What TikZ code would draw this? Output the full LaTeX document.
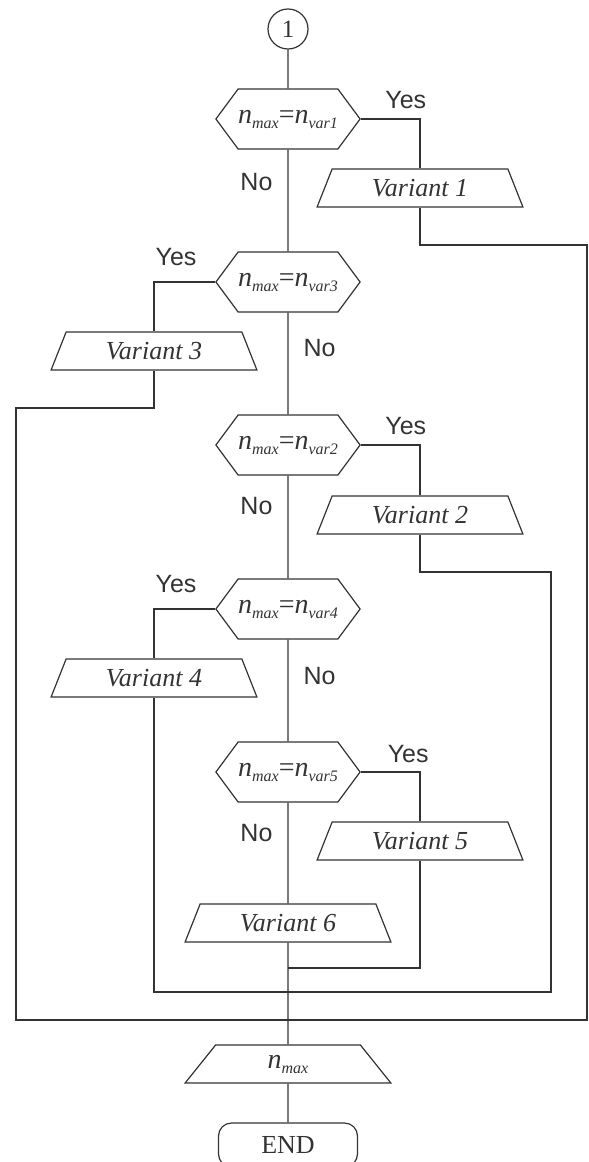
\documentclass[tikz,border=0pt]{standalone}
\usepackage{fontspec}
\setmainfont{Liberation Serif}
\setsansfont{Liberation Sans}
\usetikzlibrary{shapes.geometric,shapes.symbols,positioning}
\tikzset{
  cond/.style={
    draw,signal,signal from=nowhere,signal to=east and west,signal pointer angle=107,
    minimum width=141pt,minimum height=60pt,inner sep=0pt,
    font=\fontsize{28}{30}\selectfont
  },
  io/.style={
    draw,trapezium,trapezium left angle=65,trapezium right angle=65,
    trapezium stretches=true,minimum width=206pt,minimum height=38pt,
    inner sep=0pt,font=\fontsize{26}{30}\selectfont\itshape
  },
  term/.style={
    draw,rectangle,rounded corners=13pt,
    minimum width=139pt,minimum height=44pt,font=\fontsize{26}{30}\selectfont
  },
  conn/.style={draw,circle,minimum size=40pt,inner sep=0pt,font=\fontsize{25}{28}\selectfont},
  ans/.style={inner sep=0pt,font=\fontsize{25}{30}\selectfont\sffamily}
}
\newcommand{\nsub}[1]{{\fontsize{28}{30}\selectfont\textit{n}}\raisebox{-5pt}{\fontsize{16}{16}\selectfont\textit{#1}}}

\begin{document}
\begin{tikzpicture}[x=1pt,y=-1pt,line width=1.2pt,color=black!80]
\useasboundingbox (0,0) rectangle (589,1162);

\node[conn] (start) at (288,29) {1};
\node[cond] (c1) at (288,119) {\nsub{max}=\nsub{var1}};
\node[io] (v1) at (420,188) {Variant 1};
\node[cond] (c3) at (288,282) {\nsub{max}=\nsub{var3}};
\node[io] (v3) at (154,351) {Variant 3};
\node[cond] (c2) at (288,445) {\nsub{max}=\nsub{var2}};
\node[io] (v2) at (420,515) {Variant 2};
\node[cond] (c4) at (288,609) {\nsub{max}=\nsub{var4}};
\node[io] (v4) at (154,678) {Variant 4};
\node[cond] (c5) at (288,772) {\nsub{max}=\nsub{var5}};
\node[io] (v5) at (420,841) {Variant 5};
\node[io] (v6) at (288,923) {Variant 6};
\node[io] (out) at (288,1064) {\nsub{max}};
\node[term] (stop) at (288,1145) {END};

% corners of the return lines
\coordinate (r1) at (587,245);
\coordinate (l3) at (16,408);
\coordinate (r2) at (551,572);
\coordinate (m1) at (288,1020);
\coordinate (m2) at (288,992);
\coordinate (m5) at (288,968);

% main line
\draw (start) -- (c1);
\draw (c1) -- node[ans,pos=0.32,left=15pt] {No} (c3);
\draw (c3) -- node[ans,pos=0.35,right=15pt] {No} (c2);
\draw (c2) -- node[ans,pos=0.3,left=15pt] {No} (c4);
\draw (c4) -- node[ans,pos=0.36,right=15pt] {No} (c5);
\draw (c5) -- node[ans,pos=0.3,left=15pt] {No} (v6);
\draw (v6) -- (out);
\draw (out) -- (stop);

% yes branches
\draw (c1.east) -| node[ans,pos=0.38,above=10pt] {Yes} (v1.north);
\draw (c3.west) -| node[ans,pos=0.32,above=16pt] {Yes} (v3.north);
\draw (c2.east) -| node[ans,pos=0.38,above=10pt] {Yes} (v2.north);
\draw (c4.west) -| node[ans,pos=0.32,above=16pt] {Yes} (v4.north);
\draw (c5.east) -| node[ans,pos=0.4,above=9pt] {Yes} (v5.north);

% return lines
\draw (v1.south) |- (r1) |- (m1);
\draw (v3.south) |- (l3) |- (m1);
\draw (v2.south) |- (r2) |- (m2);
\draw (v4.south) |- (m2);
\draw (v5.south) |- (m5);

\end{tikzpicture}
\end{document}
